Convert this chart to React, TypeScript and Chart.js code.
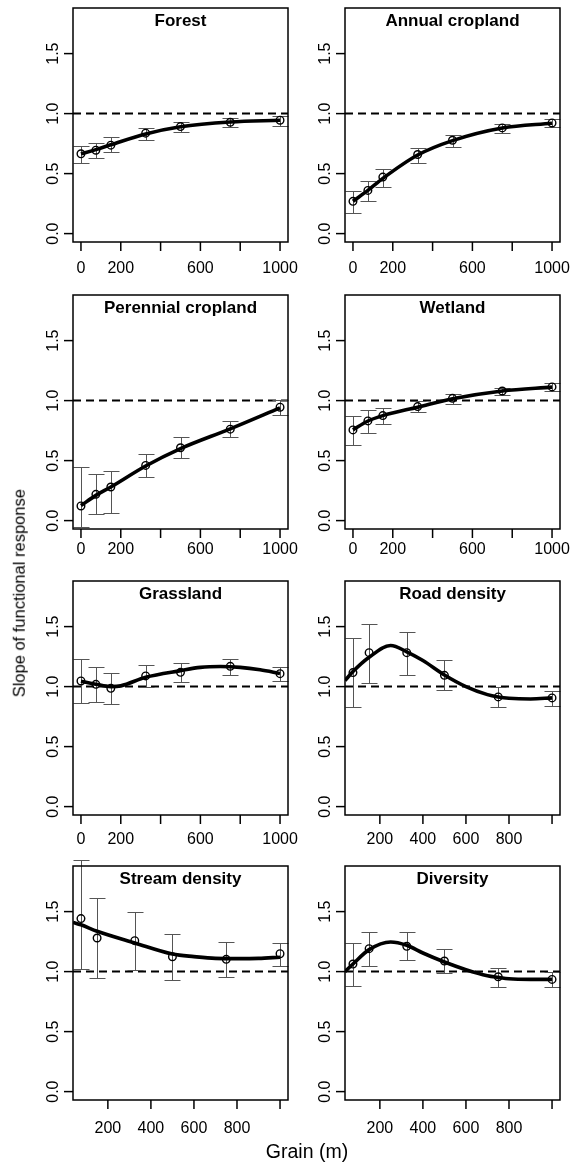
import React, { useEffect, useRef } from "react";
import { Chart, registerables } from "chart.js";

Chart.register(...registerables);

// ---------------- DATA ----------------
const grainFine = [0, 75, 150, 325, 500, 750, 1000];
const grainCoarse = [75, 150, 325, 500, 750, 1000];

const forestMean = [0.665, 0.695, 0.737, 0.837, 0.892, 0.928, 0.945];
const forestLo = [0.59, 0.626, 0.681, 0.784, 0.848, 0.889, 0.9];
const forestHi = [0.726, 0.753, 0.803, 0.881, 0.928, 0.964, 0.978];
const forestFitX = [0, 75, 150, 325, 500, 750, 1000];
const forestFitY = [0.665, 0.7, 0.74, 0.83, 0.89, 0.93, 0.945];

const annualMean = [0.269, 0.36, 0.471, 0.659, 0.778, 0.881, 0.922];
const annualLo = [0.175, 0.271, 0.388, 0.59, 0.723, 0.837, 0.886];
const annualHi = [0.352, 0.438, 0.54, 0.715, 0.825, 0.911, 0.958];
const annualFitX = [0, 75, 150, 325, 500, 750, 1000];
const annualFitY = [0.269, 0.36, 0.46, 0.655, 0.775, 0.88, 0.92];

const perennialMean = [0.122, 0.219, 0.28, 0.46, 0.607, 0.762, 0.945];
const perennialLo = [-0.055, 0.053, 0.067, 0.36, 0.518, 0.696, 0.879];
const perennialHi = [0.444, 0.385, 0.413, 0.552, 0.693, 0.826, 1.004];
const perennialFitX = [0, 75, 150, 325, 500, 750, 1000];
const perennialFitY = [0.125, 0.21, 0.28, 0.455, 0.6, 0.765, 0.94];

const wetlandMean = [0.756, 0.831, 0.875, 0.95, 1.019, 1.08, 1.114];
const wetlandLo = [0.634, 0.729, 0.803, 0.903, 0.975, 1.05, 1.078];
const wetlandHi = [0.875, 0.922, 0.939, 0.994, 1.055, 1.105, 1.147];
const wetlandFitX = [0, 75, 150, 325, 500, 750, 1000];
const wetlandFitY = [0.756, 0.83, 0.875, 0.945, 1.015, 1.08, 1.112];

const grassMean = [1.047, 1.019, 0.986, 1.089, 1.119, 1.169, 1.108];
const grassLo = [0.861, 0.869, 0.853, 0.994, 1.039, 1.094, 1.05];
const grassHi = [1.228, 1.161, 1.117, 1.178, 1.2, 1.233, 1.167];
const grassFitX = [0, 75, 150, 200, 325, 500, 600, 700, 800, 900, 1000];
const grassFitY = [1.045, 1.02, 1.0, 1.006, 1.078, 1.133, 1.16, 1.167, 1.16, 1.14, 1.11];

const roadMean = [1.117, 1.283, 1.283, 1.094, 0.914, 0.906];
const roadLo = [0.833, 1.028, 1.097, 0.969, 0.833, 0.842];
const roadHi = [1.403, 1.519, 1.458, 1.219, 0.994, 0.961];
const roadFitX = [38, 75, 150, 250, 325, 400, 500, 600, 700, 750, 800, 900, 1000];
const roadFitY = [1.05, 1.125, 1.244, 1.342, 1.29, 1.217, 1.097, 1.0, 0.933, 0.914, 0.903, 0.897, 0.906];

const streamMean = [1.442, 1.28, 1.258, 1.124, 1.102, 1.149];
const streamLo = [1.024, 0.946, 1.01, 0.932, 0.957, 1.046];
const streamHi = [1.934, 1.614, 1.497, 1.316, 1.247, 1.238];
const streamFitX = [38, 75, 150, 325, 500, 600, 700, 800, 900, 1000];
const streamFitY = [1.41, 1.39, 1.336, 1.239, 1.147, 1.125, 1.11, 1.108, 1.11, 1.12];

const divMean = [1.063, 1.191, 1.211, 1.088, 0.957, 0.935];
const divLo = [0.882, 1.044, 1.099, 0.985, 0.874, 0.868];
const divHi = [1.239, 1.328, 1.33, 1.186, 1.033, 0.999];
const divFitX = [38, 75, 150, 250, 325, 400, 500, 600, 700, 750, 800, 900, 1000];
const divFitY = [1.0, 1.063, 1.183, 1.247, 1.219, 1.155, 1.08, 1.016, 0.966, 0.952, 0.94, 0.935, 0.935];

const panelTitles = [
  "Forest",
  "Annual cropland",
  "Perennial cropland",
  "Wetland",
  "Grassland",
  "Road density",
  "Stream density",
  "Diversity",
];

const yTicks = [0, 0.5, 1, 1.5];
const yTickLabels = ["0.0", "0.5", "1.0", "1.5"];
const xTicksFine = [0, 200, 400, 600, 800, 1000];
const xTickLabelsFine = ["0", "200", "", "600", "", "1000"];
const xTicksCoarse = [200, 400, 600, 800, 1000];
const xTickLabelsCoarse = ["200", "400", "600", "800", ""];
const referenceLevel = 1;

const xTitle = "Grain (m)";
const yTitle = "Slope of functional response";

// ---------------- LAYOUT ----------------
const FONT = '"Liberation Sans", Arial, Helvetica, sans-serif';
const BOX_W = 215;
const BOX_H = 234;
const COL_LEFT = [73, 345];
const ROW_TOP = [8, 295, 581, 866];
const ROW_LABEL_OFFSET = [30.5, 24.5, 28.5, 32.5];
const PAD_L = 60;
const PAD_T = 12;
const PAD_R = 10;
const PAD_B = 48;
const Y_MIN = -0.07;
const Y_MAX = 1.88;
const FINE_RANGE = [-40, 1040];
const COARSE_RANGE = [38, 1037];
const CAP = 8;

type PanelDef = {
  title: string;
  grains: number[];
  mean: number[];
  lo: number[];
  hi: number[];
  fitX: number[];
  fitY: number[];
  range: number[];
  xTicks: number[];
  xLabels: string[];
  row: number;
  col: number;
};

const panels: PanelDef[] = [
  { title: panelTitles[0], grains: grainFine, mean: forestMean, lo: forestLo, hi: forestHi, fitX: forestFitX, fitY: forestFitY, range: FINE_RANGE, xTicks: xTicksFine, xLabels: xTickLabelsFine, row: 0, col: 0 },
  { title: panelTitles[1], grains: grainFine, mean: annualMean, lo: annualLo, hi: annualHi, fitX: annualFitX, fitY: annualFitY, range: FINE_RANGE, xTicks: xTicksFine, xLabels: xTickLabelsFine, row: 0, col: 1 },
  { title: panelTitles[2], grains: grainFine, mean: perennialMean, lo: perennialLo, hi: perennialHi, fitX: perennialFitX, fitY: perennialFitY, range: FINE_RANGE, xTicks: xTicksFine, xLabels: xTickLabelsFine, row: 1, col: 0 },
  { title: panelTitles[3], grains: grainFine, mean: wetlandMean, lo: wetlandLo, hi: wetlandHi, fitX: wetlandFitX, fitY: wetlandFitY, range: FINE_RANGE, xTicks: xTicksFine, xLabels: xTickLabelsFine, row: 1, col: 1 },
  { title: panelTitles[4], grains: grainFine, mean: grassMean, lo: grassLo, hi: grassHi, fitX: grassFitX, fitY: grassFitY, range: FINE_RANGE, xTicks: xTicksFine, xLabels: xTickLabelsFine, row: 2, col: 0 },
  { title: panelTitles[5], grains: grainCoarse, mean: roadMean, lo: roadLo, hi: roadHi, fitX: roadFitX, fitY: roadFitY, range: COARSE_RANGE, xTicks: xTicksCoarse, xLabels: xTickLabelsCoarse, row: 2, col: 1 },
  { title: panelTitles[6], grains: grainCoarse, mean: streamMean, lo: streamLo, hi: streamHi, fitX: streamFitX, fitY: streamFitY, range: COARSE_RANGE, xTicks: xTicksCoarse, xLabels: xTickLabelsCoarse, row: 3, col: 0 },
  { title: panelTitles[7], grains: grainCoarse, mean: divMean, lo: divLo, hi: divHi, fitX: divFitX, fitY: divFitY, range: COARSE_RANGE, xTicks: xTicksCoarse, xLabels: xTickLabelsCoarse, row: 3, col: 1 },
];

function makeDecor(p: PanelDef) {
  return {
    id: "panelDecor",
    beforeDatasetsDraw(chart: any) {
      const { ctx, chartArea: a } = chart;
      const xs = chart.scales.x;
      const ys = chart.scales.y;
      ctx.save();
      const yr = ys.getPixelForValue(referenceLevel);
      ctx.strokeStyle = "#000";
      ctx.lineWidth = 2;
      ctx.setLineDash([8, 5]);
      ctx.beginPath();
      ctx.moveTo(a.left, yr);
      ctx.lineTo(a.right, yr);
      ctx.stroke();
      ctx.setLineDash([]);
      ctx.strokeStyle = "#555";
      ctx.lineWidth = 1;
      p.grains.forEach((g, i) => {
        const px = Math.round(xs.getPixelForValue(g)) + 0.5;
        const y1 = Math.round(ys.getPixelForValue(p.lo[i])) + 0.5;
        const y2 = Math.round(ys.getPixelForValue(p.hi[i])) + 0.5;
        ctx.beginPath();
        ctx.moveTo(px, y1);
        ctx.lineTo(px, y2);
        ctx.moveTo(px - CAP, y1);
        ctx.lineTo(px + CAP, y1);
        ctx.moveTo(px - CAP, y2);
        ctx.lineTo(px + CAP, y2);
        ctx.stroke();
      });
      ctx.restore();
    },
    afterDraw(chart: any) {
      const { ctx, chartArea: a } = chart;
      const xs = chart.scales.x;
      const ys = chart.scales.y;
      ctx.save();
      ctx.strokeStyle = "#000";
      ctx.fillStyle = "#000";
      ctx.lineWidth = 1.5;
      ctx.strokeRect(a.left, a.top, a.right - a.left, a.bottom - a.top);
      ctx.font = `16px ${FONT}`;
      ctx.textAlign = "center";
      ctx.textBaseline = "alphabetic";
      p.xTicks.forEach((v, i) => {
        const px = xs.getPixelForValue(v);
        ctx.beginPath();
        ctx.moveTo(px, a.bottom);
        ctx.lineTo(px, a.bottom + 9);
        ctx.stroke();
        if (p.xLabels[i]) ctx.fillText(p.xLabels[i], px, a.bottom + ROW_LABEL_OFFSET[p.row]);
      });
      yTicks.forEach((v, i) => {
        const py = ys.getPixelForValue(v);
        ctx.beginPath();
        ctx.moveTo(a.left - 9, py);
        ctx.lineTo(a.left, py);
        ctx.stroke();
        ctx.save();
        ctx.translate(a.left - 15, py);
        ctx.rotate(-Math.PI / 2);
        ctx.fillText(yTickLabels[i], 0, 0);
        ctx.restore();
      });
      ctx.font = `bold 17px ${FONT}`;
      ctx.fillText(p.title, (a.left + a.right) / 2, a.top + 17.5);
      ctx.restore();
    },
  };
}

function Panel({ p }: { p: PanelDef }) {
  const ref = useRef<HTMLCanvasElement>(null);
  const W = PAD_L + BOX_W + PAD_R;
  const H = PAD_T + BOX_H + PAD_B;
  useEffect(() => {
    if (!ref.current) return;
    const chart = new Chart(ref.current, {
      type: "line",
      data: {
        datasets: [
          {
            data: p.grains.map((g, i) => ({ x: g, y: p.mean[i] })),
            showLine: false,
            pointRadius: 3.8,
            pointBorderWidth: 1.4,
            pointBorderColor: "#000",
            pointBackgroundColor: "rgba(0,0,0,0)",
            pointStyle: "circle",
            order: 0,
          } as any,
          {
            data: p.fitX.map((g, i) => ({ x: g, y: p.fitY[i] })),
            borderColor: "#000",
            borderWidth: 3.6,
            pointRadius: 0,
            cubicInterpolationMode: "monotone",
            fill: false,
            order: 1,
          } as any,
        ],
      },
      options: {
        responsive: false,
        maintainAspectRatio: false,
        animation: false,
        devicePixelRatio: 1,
        events: [],
        layout: { padding: { left: PAD_L, top: PAD_T, right: PAD_R, bottom: PAD_B } },
        plugins: {
          legend: { display: false },
          tooltip: { enabled: false },
          title: { display: false },
        },
        scales: {
          x: { type: "linear", min: p.range[0], max: p.range[1], display: false },
          y: { type: "linear", min: Y_MIN, max: Y_MAX, display: false },
        },
      },
      plugins: [makeDecor(p)],
    } as any);
    return () => chart.destroy();
  }, [p]);
  const left = COL_LEFT[p.col] - PAD_L;
  const top = ROW_TOP[p.row] - PAD_T;
  return (
    <canvas
      ref={ref}
      width={W}
      height={H}
      style={{ position: "absolute", left, top, width: W, height: H }}
    />
  );
}

export default function App() {
  const yFont = 16.5;
  return (
    <div
      style={{
        position: "absolute",
        left: 0,
        top: 0,
        width: 573,
        height: 1162,
        background: "#fff",
        overflow: "hidden",
        fontFamily: FONT,
      }}
    >
      {panels.map((p) => (
        <Panel key={p.title} p={p} />
      ))}
      <div
        style={{
          position: "absolute",
          left: 107,
          top: 1142,
          width: 400,
          textAlign: "center",
          fontSize: 19.5,
          lineHeight: "19.5px",
          color: "#000",
          whiteSpace: "nowrap",
        }}
      >
        {xTitle}
      </div>
      <div
        style={{
          position: "absolute",
          left: 19 - 200,
          top: 593 - yFont / 2,
          width: 400,
          height: yFont,
          lineHeight: `${yFont}px`,
          fontSize: yFont,
          textAlign: "center",
          transform: "rotate(-90deg)",
          transformOrigin: "50% 50%",
          color: "#000",
          whiteSpace: "nowrap",
        }}
      >
        {yTitle}
      </div>
    </div>
  );
}
